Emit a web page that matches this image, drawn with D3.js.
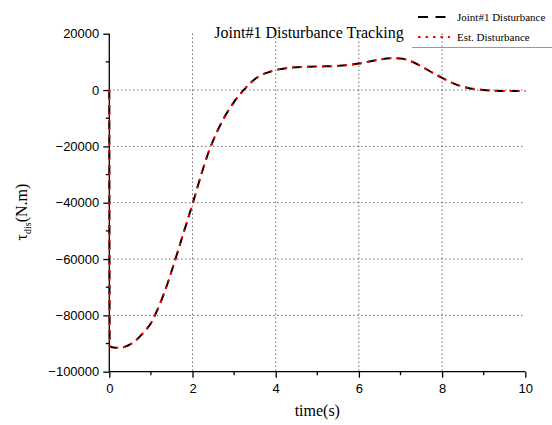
<!DOCTYPE html>
<html>
<head>
<meta charset="utf-8">
<script src="https://cdn.jsdelivr.net/npm/d3@7"></script>
<style>
  html, body { margin: 0; padding: 0; background: #fff; }
  svg { display: block; }
</style>
</head>
<body>
<svg id="chart" width="552" height="425"></svg>
<script>
// Time samples (s) and joint disturbance torque (N.m)
const timeS = [0, 0.01, 0.1, 0.2, 0.3, 0.4, 0.5, 0.6, 0.7, 0.8, 0.9, 1.0, 1.1, 1.2, 1.4, 1.6, 1.8, 2.0, 2.2, 2.4, 2.6, 2.8, 3.0, 3.2, 3.4, 3.6, 3.8, 4.0, 4.4, 4.8, 5.2, 5.6, 6.0, 6.4, 6.8, 7.0, 7.2, 7.5, 7.8, 8.0, 8.3, 8.6, 9.0, 9.4, 9.8, 10];
const disturbance = [0, -91000, -91400, -91500, -91400, -91000, -90300, -89300, -88000, -86500, -84800, -82800, -79800, -76500, -68700, -59500, -50000, -40500, -30500, -21500, -14500, -8800, -4200, -500, 2600, 4900, 6200, 7100, 8000, 8300, 8400, 8700, 9400, 10600, 11300, 11200, 10500, 8400, 5900, 4300, 2200, 800, 0, -350, -380, -300];
// The estimate tracks the disturbance closely
const estimate = disturbance.slice();

const xTicks = [0, 2, 4, 6, 8, 10];
const yTicks = [20000, 0, -20000, -40000, -60000, -80000, -100000];
const seriesNames = ["Joint#1 Disturbance", "Est. Disturbance"];
const titleText = "Joint#1 Disturbance Tracking";

const svg = d3.select("#chart");
const plotL = 109.3, plotR = 525.3, plotT = 33.7, plotB = 371.7;

const x = d3.scaleLinear().domain([0, 10]).range([plotL, plotR]);
const y = d3.scaleLinear().domain([-100000, 20000]).range([plotB, plotT]);

// Dotted grid at interior ticks
const grid = svg.append("g").attr("stroke", "#222").attr("stroke-width", 1)
  .attr("stroke-dasharray", "1,3");
grid.selectAll("line.v").data([2, 4, 6, 8]).join("line").attr("class", "v")
  .attr("x1", d => x(d)).attr("x2", d => x(d))
  .attr("y1", plotT).attr("y2", plotB);
grid.selectAll("line.h").data([0, -20000, -40000, -60000, -80000]).join("line").attr("class", "h")
  .attr("x1", plotL).attr("x2", plotR)
  .attr("y1", d => y(d)).attr("y2", d => y(d));

// Axes
const xAxis = d3.axisBottom(x).tickValues(xTicks).tickFormat(d3.format("d")).tickSize(6).tickPadding(6);
const yAxis = d3.axisLeft(y).tickValues(yTicks).tickFormat(d3.format("d")).tickSize(6).tickPadding(4);

const gx = svg.append("g").attr("transform", `translate(0,${plotB})`).call(xAxis);
const gy = svg.append("g").attr("transform", `translate(${plotL},0)`).call(yAxis);
[gx, gy].forEach(g => {
  g.select(".domain").attr("stroke", "#000").attr("stroke-width", 1.3);
  g.selectAll(".tick line").attr("stroke", "#000").attr("stroke-width", 1.3);
  g.selectAll("text").attr("font-family", "'Liberation Sans', Arial, sans-serif")
    .attr("font-size", 13).attr("fill", "#000");
});
gx.select(".domain").attr("d", `M${plotL},0H${plotR}`);
gy.select(".domain").attr("d", `M0,${plotB}V${plotT}`);

// Minor ticks
svg.append("g").selectAll("line").data([1, 3, 5, 7, 9]).join("line")
  .attr("x1", d => x(d)).attr("x2", d => x(d))
  .attr("y1", plotB).attr("y2", plotB + 3.5)
  .attr("stroke", "#000").attr("stroke-width", 1.3);
svg.append("g").selectAll("line").data([10000, -10000, -30000, -50000, -70000, -90000]).join("line")
  .attr("x1", plotL - 3.5).attr("x2", plotL)
  .attr("y1", d => y(d)).attr("y2", d => y(d))
  .attr("stroke", "#000").attr("stroke-width", 1.3);

// Curves
const pts = timeS.map((t, i) => [t, disturbance[i]]);
const estPts = timeS.map((t, i) => [t, estimate[i]]);
const pathLine = d3.line().x(d => x(d[0])).y(d => y(d[1])).curve(d3.curveMonotoneX);

svg.append("path").datum(pts).attr("d", pathLine)
  .attr("fill", "none").attr("stroke", "#000").attr("stroke-width", 2)
  .attr("stroke-dasharray", "9,6");
svg.append("path").datum(estPts).attr("d", pathLine)
  .attr("fill", "none").attr("stroke", "#f00").attr("stroke-width", 2)
  .attr("stroke-dasharray", "2.5,5");

// Title
svg.append("text").attr("x", 309).attr("y", 38).attr("text-anchor", "middle")
  .attr("font-family", "'Liberation Serif', 'Times New Roman', serif")
  .attr("font-size", 16).attr("fill", "#000").text(titleText);

// Axis titles
svg.append("text").attr("x", x(5)).attr("y", 416).attr("text-anchor", "middle")
  .attr("font-family", "'Liberation Serif', 'Times New Roman', serif")
  .attr("font-size", 16).attr("fill", "#000").text("time(s)");

const yl = svg.append("text").attr("transform", "translate(27,212) rotate(-90)")
  .attr("text-anchor", "middle")
  .attr("font-family", "'Liberation Serif', 'Times New Roman', serif")
  .attr("font-size", 16).attr("fill", "#000");
yl.append("tspan").text("τ");
yl.append("tspan").attr("font-size", 10).attr("dy", 4).text("dis");
yl.append("tspan").attr("dy", -4).text("(N.m)");

// Legend
const legend = svg.append("g");
legend.append("line").attr("x1", 412).attr("x2", 552).attr("y1", 47.5).attr("y2", 47.5)
  .attr("stroke", "#999").attr("stroke-width", 1);
const styles = [{c: "#000", dash: "10,7.5"}, {c: "#f00", dash: "2.5,5"}];
seriesNames.forEach((name, i) => {
  const yy = 17 + i * 20;
  legend.append("line").attr("x1", 418).attr("x2", 450).attr("y1", yy).attr("y2", yy)
    .attr("stroke", styles[i].c).attr("stroke-width", 2).attr("stroke-dasharray", styles[i].dash);
  legend.append("text").attr("x", 457).attr("y", yy + 4)
    .attr("font-family", "'Liberation Serif', 'Times New Roman', serif")
    .attr("font-size", 11).attr("fill", "#000").text(name);
});
</script>
</body>
</html>
